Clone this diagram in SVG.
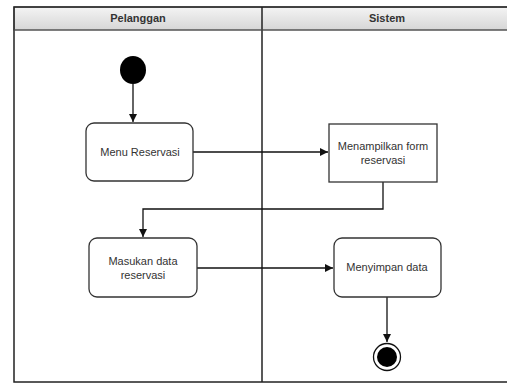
<svg xmlns="http://www.w3.org/2000/svg" width="507" height="383" viewBox="0 0 507 383">
<style>
.node{fill:#fff;stroke:#333;stroke-width:1.3}
.lbl{font-family:"Liberation Sans",Arial,sans-serif;font-size:11px;fill:#333;text-anchor:middle}
.hdr{font-family:"Liberation Sans",Arial,sans-serif;font-size:11px;font-weight:bold;fill:#333;text-anchor:middle}
.edge{fill:none;stroke:#111;stroke-width:1.3;marker-end:url(#arr)}
.lane{fill:none;stroke:#222;stroke-width:1.5}
</style>
<defs>
<linearGradient id="hg" x1="0" y1="0" x2="0" y2="1">
<stop offset="0" stop-color="#f4f4f4"/>
<stop offset="1" stop-color="#d6d6d6"/>
</linearGradient>
<marker id="arr" viewBox="0 0 10 10" refX="10" refY="5" markerWidth="8" markerHeight="8" markerUnits="userSpaceOnUse" orient="auto">
<path d="M0,0 L10,5 L0,10 z" fill="#111"/>
</marker>
</defs>
<rect width="507" height="383" fill="#fff"/>
<g id="pool">
<rect x="14" y="7" width="500" height="23" fill="url(#hg)" stroke="#555" stroke-width="1"/>
<rect x="14" y="7" width="500" height="375" class="lane"/>
<line x1="262" y1="7" x2="262" y2="382" class="lane"/>
<line x1="14" y1="30" x2="514" y2="30" stroke="#555" stroke-width="1"/>
<text x="138" y="22" class="hdr">Pelanggan</text>
<text x="387" y="22" class="hdr">Sistem</text>
</g>
<g id="connectors">
<path d="M133,84 L133,122" class="edge"/>
<path d="M193,152 L328,152" class="edge"/>
<path d="M383,182 L383,209 L143,209 L143,237" class="edge"/>
<path d="M197,268 L333,268" class="edge"/>
<path d="M387,297 L387,342" class="edge"/>
</g>
<g id="start">
<ellipse cx="133" cy="70" rx="13" ry="14" fill="#000"/>
</g>
<g id="menu-reservasi">
<rect x="86" y="123" width="107" height="58" rx="8" class="node"/>
<text x="140" y="156" class="lbl">Menu Reservasi</text>
</g>
<g id="menampilkan-form">
<rect x="329" y="124" width="108" height="58" class="node"/>
<text x="383" y="150" class="lbl">Menampilkan form</text>
<text x="383" y="164" class="lbl">reservasi</text>
</g>
<g id="masukan-data">
<rect x="89" y="238" width="108" height="59" rx="8" class="node"/>
<text x="143" y="265" class="lbl">Masukan data</text>
<text x="143" y="279" class="lbl">reservasi</text>
</g>
<g id="menyimpan-data">
<rect x="334" y="238" width="107" height="59" rx="8" class="node"/>
<text x="387" y="271" class="lbl">Menyimpan data</text>
</g>
<g id="end">
<circle cx="387" cy="357" r="13.5" fill="#fff" stroke="#111" stroke-width="1.3"/>
<circle cx="387" cy="357" r="10" fill="#000"/>
</g>
</svg>
